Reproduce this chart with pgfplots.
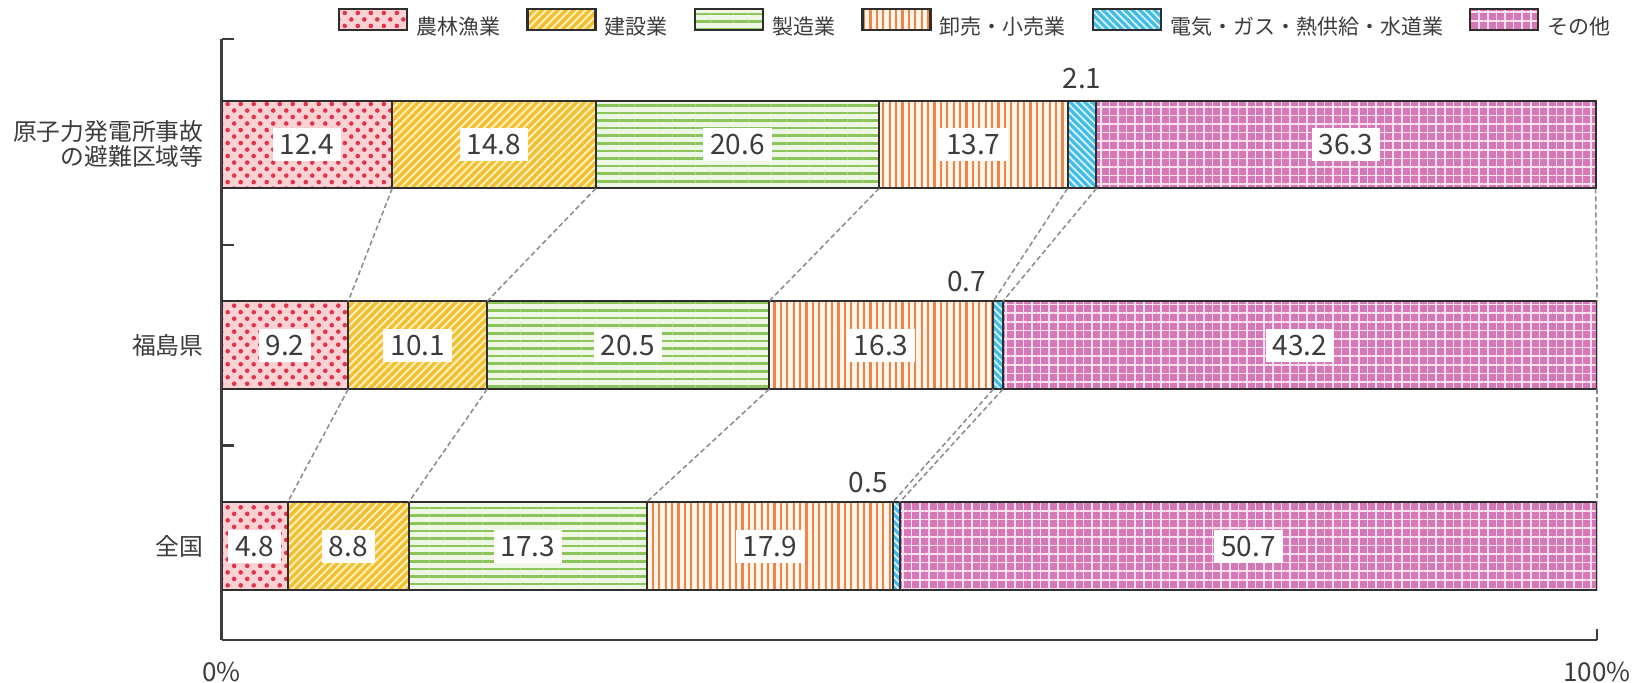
\documentclass[border=0pt]{standalone}
\usepackage{fontspec}
\setmainfont{Noto Sans CJK JP}
\usepackage{pgfplots}
\pgfplotsset{compat=1.18}
\usetikzlibrary{patterns.meta}

\definecolor{axisgray}{HTML}{3C3C3C}
\definecolor{barline}{HTML}{2E2E2E}
\definecolor{conngray}{HTML}{8A8A8A}
\definecolor{agrbg}{HTML}{FAD2D4}
\definecolor{agrdot}{HTML}{E0344A}
\definecolor{conbg}{HTML}{F4BE2C}
\definecolor{constripe}{HTML}{FFF2C2}
\definecolor{manbg}{HTML}{EEF6E6}
\definecolor{manline}{HTML}{8CC55A}
\definecolor{whobg}{HTML}{FFF4EA}
\definecolor{wholine}{HTML}{EE8446}
\definecolor{elebg}{HTML}{3FBDE8}
\definecolor{eleline}{HTML}{DDF3FB}
\definecolor{othbg}{HTML}{D678B6}
\definecolor{othline}{HTML}{F8E2F0}

\tikzset{conn/.style={draw=conngray, line width=0.75pt, dash pattern=on 2.5pt off 1.5pt}}

\begin{document}
\begin{tikzpicture}
\useasboundingbox (0,0) rectangle (818.5pt,341.5pt);
\begin{axis}[
  at={(110.85pt,21.5pt)}, anchor=south west,
  scale only axis, width=687.65pt, height=300.5pt,
  xmin=0, xmax=100, ymin=-0.468, ymax=2.5255,
  xbar stacked, bar width=0.438,
  axis lines*=left,
  axis line style={draw=axisgray, line width=1.3pt},
  xtick={0,100}, xticklabels={0\%,100\%},
  xtick style={draw=axisgray, line width=1.3pt},
  tick align=inside, major tick length=5.5pt,
  xticklabel style={font=\fontsize{13pt}{15pt}\selectfont, text=axisgray, anchor=center, yshift=-16pt},
  ytick={0,1,2}, yticklabels={全国,福島県,{原子力発電所事故\\の避難区域等}},
  ytick style={draw=none},
  yticklabel style={font=\fontsize{11.9pt}{12.5pt}\selectfont, text=axisgray, align=right, anchor=east, inner sep=0pt, xshift=-8.85pt},
  /pgf/number format/assume math mode=true,
  legend columns=6,
  legend style={draw=none, fill=none, inner sep=0pt, outer sep=0pt,
    at={(0.0846,1)}, anchor=west, yshift=8.25pt,
    font=\fontsize{10.5pt}{12pt}\selectfont, text=axisgray,
    nodes={inner sep=0pt},
    /tikz/every odd column/.append style={column sep=4pt},
    /tikz/every even column/.append style={column sep=13pt}},
  legend image code/.code={\draw[#1, line width=1.2pt] (0pt,-1.45pt) rectangle (34pt,9.05pt);},
]
\addplot[draw=barline, line width=1pt, fill=agrbg,
  postaction={pattern={Dots[angle=45, distance=4.6pt, radius=1.15pt]}, pattern color=agrdot}]
  coordinates {(12.4,2) (9.2,1) (4.8,0)};
\addlegendentry{農林漁業}
\addplot[draw=barline, line width=1pt, fill=conbg,
  postaction={pattern={Lines[angle=45, distance=2.8pt, line width=1.0pt]}, pattern color=constripe}]
  coordinates {(14.8,2) (10.1,1) (8.8,0)};
\addlegendentry{建設業}
\addplot[draw=barline, line width=1pt, fill=manbg,
  postaction={pattern={Lines[angle=0, distance=3.8pt, line width=1.3pt]}, pattern color=manline}]
  coordinates {(20.6,2) (20.5,1) (17.3,0)};
\addlegendentry{製造業}
\addplot[draw=barline, line width=1pt, fill=whobg,
  postaction={pattern={Lines[angle=90, distance=3.2pt, line width=1.1pt]}, pattern color=wholine}]
  coordinates {(13.7,2) (16.3,1) (17.9,0)};
\addlegendentry{卸売・小売業}
\addplot[draw=barline, line width=1pt, fill=elebg,
  postaction={pattern={Lines[angle=-45, distance=2.6pt, line width=0.9pt]}, pattern color=eleline}]
  coordinates {(2.1,2) (0.7,1) (0.5,0)};
\addlegendentry{電気・ガス・熱供給・水道業}
\addplot[draw=barline, line width=1pt, fill=othbg,
  postaction={pattern={Hatch[angle=0, distance=4.3pt, line width=0.75pt]}, pattern color=othline}]
  coordinates {(36.3,2) (43.2,1) (50.7,0)};
\addlegendentry{その他}
\end{axis}

\begin{axis}[
  at={(110.85pt,21.5pt)}, anchor=south west,
  scale only axis, width=687.65pt, height=300.5pt,
  xmin=0, xmax=100, ymin=-0.468, ymax=2.5255,
  axis lines*=left, axis line style={draw=none},
  xtick=\empty, ytick={0.5,1.5,2.5255}, yticklabels={,,},
  tick align=inside, major tick length=6pt,
  ytick style={draw=axisgray, line width=1.3pt},
  clip=false,
]
\addplot[conn] coordinates {(12.4,1.781) (9.2,1.219)};
\addplot[conn] coordinates {(27.2,1.781) (19.3,1.219)};
\addplot[conn] coordinates {(47.8,1.781) (39.8,1.219)};
\addplot[conn] coordinates {(61.5,1.781) (56.1,1.219)};
\addplot[conn] coordinates {(63.6,1.781) (56.8,1.219)};
\addplot[conn] coordinates {(99.9,1.781) (100,1.219)};
\addplot[conn] coordinates {(9.2,0.781) (4.8,0.219)};
\addplot[conn] coordinates {(19.3,0.781) (13.6,0.219)};
\addplot[conn] coordinates {(39.8,0.781) (30.9,0.219)};
\addplot[conn] coordinates {(56.1,0.781) (48.8,0.219)};
\addplot[conn] coordinates {(56.8,0.781) (49.3,0.219)};
\addplot[conn] coordinates {(100,0.781) (100,0.219)};

\addplot[only marks, mark=none, point meta=explicit symbolic, nodes near coords,
  nodes near coords style={font=\fontsize{14pt}{16pt}\selectfont, text=axisgray, fill=white,
    anchor=center, inner xsep=3.5pt, inner ysep=3.25pt, text height=10pt, text depth=0pt}]
  table[meta=lab] {
x y lab
6.2 2 12.4
19.8 2 14.8
37.5 2 20.6
54.65 2 13.7
81.75 2 36.3
4.6 1 9.2
14.25 1 10.1
29.55 1 20.5
47.95 1 16.3
78.4 1 43.2
2.4 0 4.8
9.2 0 8.8
22.25 0 17.3
39.85 0 17.9
74.65 0 50.7
};
\addplot[only marks, mark=none, point meta=explicit symbolic, nodes near coords,
  nodes near coords style={font=\fontsize{14pt}{16pt}\selectfont, text=axisgray,
    anchor=center, inner sep=0pt}]
  table[meta=lab] {
x y lab
62.55 2.331 2.1
};
\addplot[only marks, mark=none, point meta=explicit symbolic, nodes near coords,
  nodes near coords style={font=\fontsize{14pt}{16pt}\selectfont, text=axisgray,
    anchor=east, inner sep=0pt}]
  table[meta=lab] {
x y lab
55.6 1.316 0.7
48.45 0.314 0.5
};
\end{axis}
\end{tikzpicture}
\end{document}
